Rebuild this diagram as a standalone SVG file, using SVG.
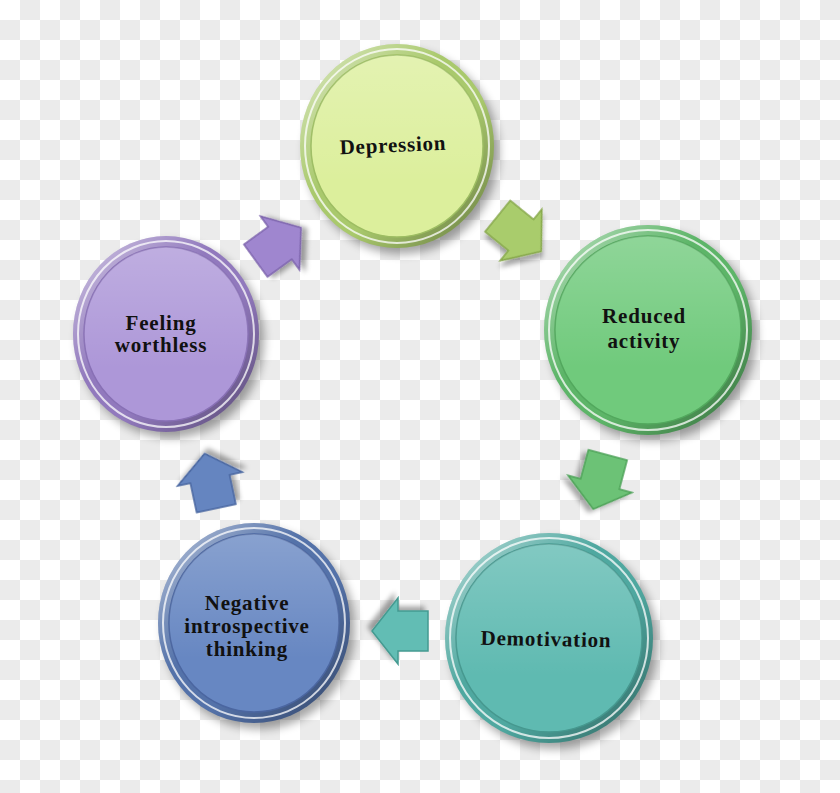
<svg xmlns="http://www.w3.org/2000/svg" width="840" height="793" viewBox="0 0 840 793">
<defs>
  <pattern id="checker" width="40" height="40" patternUnits="userSpaceOnUse">
    <rect width="40" height="40" fill="#ffffff"/>
    <rect x="20" y="0" width="20" height="20" fill="#ebebeb"/>
    <rect x="0" y="20" width="20" height="20" fill="#ebebeb"/>
  </pattern>
  <linearGradient id="rimShade" x1="0" y1="0" x2="1" y2="1">
    <stop offset="0" stop-color="#ffffff" stop-opacity="0.6"/>
    <stop offset="0.4" stop-color="#ffffff" stop-opacity="0"/>
    <stop offset="0.6" stop-color="#000000" stop-opacity="0"/>
    <stop offset="1" stop-color="#000000" stop-opacity="0.4"/>
  </linearGradient>
  <linearGradient id="faceShade" x1="0" y1="0" x2="0" y2="1">
    <stop offset="0" stop-color="#ffffff" stop-opacity="0.22"/>
    <stop offset="0.7" stop-color="#ffffff" stop-opacity="0"/>
  </linearGradient>
  <filter id="blur" x="-20%" y="-20%" width="140%" height="140%">
    <feGaussianBlur stdDeviation="5"/>
  </filter>
  <filter id="ashadow" x="-30%" y="-30%" width="160%" height="160%">
    <feGaussianBlur in="SourceAlpha" stdDeviation="2.5"/>
    <feOffset dx="4" dy="4" result="o"/>
    <feComponentTransfer><feFuncA type="linear" slope="0.35"/></feComponentTransfer>
    <feMerge><feMergeNode/><feMergeNode in="SourceGraphic"/></feMerge>
  </filter>
  <path id="arrowShape" d="M-30,-20 L0,-20 L0,-33 L26,0 L0,33 L0,20 L-30,20 Z"/>
</defs>
<style>
  .shadow { fill: #000000; opacity: 0.35; filter: url(#blur); }
  .rimshade { fill: url(#rimShade); }
  .hl { fill: none; stroke: #ffffff; stroke-opacity: 0.75; stroke-width: 2; }
  .faceshade { fill: url(#faceShade); }
  .label { font-family: "Liberation Serif", "DejaVu Serif", serif; font-weight: bold; font-size: 21px; fill: #111111; text-anchor: middle; letter-spacing: 0.8px; }
  .arrow use { stroke-width: 1.5; stroke-linejoin: miter; }
</style>

<rect width="840" height="793" fill="url(#checker)"/>

<g id="node-depression">
  <ellipse class="shadow" cx="402" cy="152" rx="97" ry="102"/>
  <ellipse cx="397" cy="146" rx="97" ry="102" fill="#a9c96c"/>
  <ellipse class="rimshade" cx="397" cy="146" rx="97" ry="102"/>
  <ellipse class="hl" cx="397" cy="146" rx="92" ry="97"/>
  <ellipse cx="397" cy="146" rx="86" ry="91" fill="#dcef9c" stroke="#9dbd62" stroke-width="1.5"/>
  <ellipse class="faceshade" cx="397" cy="146" rx="86" ry="91"/>
  <text class="label" x="393" y="152" transform="rotate(-2.5 393 146)">Depression</text>
</g>

<g id="node-reduced">
  <ellipse class="shadow" cx="653" cy="336" rx="104" ry="105"/>
  <ellipse cx="648" cy="330" rx="104" ry="105" fill="#5db568"/>
  <ellipse class="rimshade" cx="648" cy="330" rx="104" ry="105"/>
  <ellipse class="hl" cx="648" cy="330" rx="99" ry="100"/>
  <ellipse cx="648" cy="330" rx="93" ry="94" fill="#70ca7c" stroke="#52a85d" stroke-width="1.5"/>
  <ellipse class="faceshade" cx="648" cy="330" rx="93" ry="94"/>
  <text class="label" x="644" y="323">Reduced</text>
  <text class="label" x="644" y="348">activity</text>
</g>

<g id="node-demotivation">
  <ellipse class="shadow" cx="554" cy="644" rx="104" ry="105"/>
  <ellipse cx="549" cy="638" rx="104" ry="105" fill="#4fa8a0"/>
  <ellipse class="rimshade" cx="549" cy="638" rx="104" ry="105"/>
  <ellipse class="hl" cx="549" cy="638" rx="99" ry="100"/>
  <ellipse cx="549" cy="638" rx="93" ry="94" fill="#5fbab1" stroke="#46988f" stroke-width="1.5"/>
  <ellipse class="faceshade" cx="549" cy="638" rx="93" ry="94"/>
  <text class="label" x="546" y="646" transform="rotate(1.2 546 640)">Demotivation</text>
</g>

<g id="node-negative">
  <ellipse class="shadow" cx="259" cy="629" rx="96" ry="100"/>
  <ellipse cx="254" cy="623" rx="96" ry="100" fill="#5472a9"/>
  <ellipse class="rimshade" cx="254" cy="623" rx="96" ry="100"/>
  <ellipse class="hl" cx="254" cy="623" rx="91" ry="95"/>
  <ellipse cx="254" cy="623" rx="85" ry="89" fill="#6787c2" stroke="#4b66a0" stroke-width="1.5"/>
  <ellipse class="faceshade" cx="254" cy="623" rx="85" ry="89"/>
  <text class="label" x="247" y="610">Negative</text>
  <text class="label" x="247" y="633">introspective</text>
  <text class="label" x="247" y="656">thinking</text>
</g>

<g id="node-feeling">
  <ellipse class="shadow" cx="171" cy="340" rx="93" ry="98"/>
  <ellipse cx="166" cy="334" rx="93" ry="98" fill="#9179bd"/>
  <ellipse class="rimshade" cx="166" cy="334" rx="93" ry="98"/>
  <ellipse class="hl" cx="166" cy="334" rx="88" ry="93"/>
  <ellipse cx="166" cy="334" rx="82" ry="87" fill="#ad97d8" stroke="#8870b5" stroke-width="1.5"/>
  <ellipse class="faceshade" cx="166" cy="334" rx="82" ry="87"/>
  <text class="label" x="161" y="330">Feeling</text>
  <text class="label" x="161" y="352">worthless</text>
</g>

<g id="connectors">
  <g class="arrow" filter="url(#ashadow)" transform="translate(521 235) rotate(39)">
    <use href="#arrowShape" fill="#a9cc6c" stroke="#86a84a"/>
  </g>
  <g class="arrow" filter="url(#ashadow)" transform="translate(600 484) rotate(105)">
    <use href="#arrowShape" fill="#6cc276" stroke="#4ea258"/>
  </g>
  <g class="arrow" filter="url(#ashadow)" transform="translate(398 631) rotate(180)">
    <use href="#arrowShape" fill="#62bdb4" stroke="#449a91"/>
  </g>
  <g class="arrow" filter="url(#ashadow)" transform="translate(210 479) rotate(-102)">
    <use href="#arrowShape" fill="#6585c0" stroke="#4866a0"/>
  </g>
  <g class="arrow" filter="url(#ashadow)" transform="translate(280 243) rotate(-36)">
    <use href="#arrowShape" fill="#9f86cf" stroke="#7d64ad"/>
  </g>
</g>
</svg>
